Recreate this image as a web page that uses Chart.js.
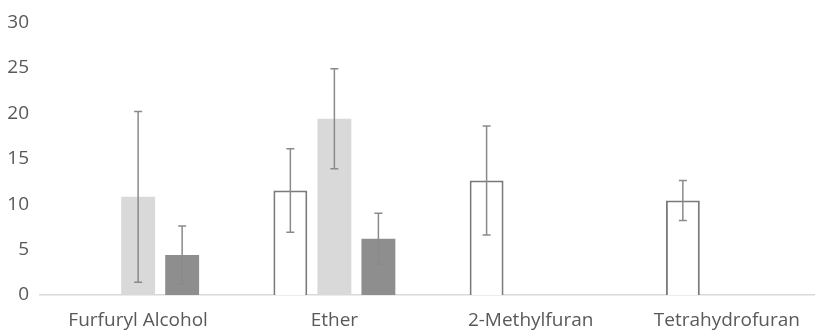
<!DOCTYPE html>
<html>
<head>
<meta charset="utf-8">
<script src="https://cdn.jsdelivr.net/npm/chart.js@4/dist/chart.umd.min.js"></script>
<style>
  html, body { margin: 0; padding: 0; background: #ffffff; overflow: hidden; }
  #wrap { width: 815px; height: 333px; overflow: hidden; position: relative; }
  #box { width: 830px; height: 333px; position: absolute; left: 0; top: 0; }
</style>
</head>
<body>
<div id="wrap"><div id="box"><canvas id="chart" width="830" height="333"></canvas></div></div>
<script>
// Categories and series
const categories = ['Furfuryl Alcohol', 'Ether', '2-Methylfuran', 'Tetrahydrofuran'];
const seriesA = [null, 11.5, 12.6, 10.4];
const seriesB = [10.8, 19.4, null, null];
const seriesC = [4.4, 6.2, null, null];
// Symmetric error (± value) for each bar
const errorA = [null, 4.6, 6.0, 2.2];
const errorB = [9.4, 5.5, null, null];
const errorC = [3.2, 2.8, null, null];
// Y axis range
const yTicks = [0, 5, 10, 15, 20, 25, 30];

const textColor = '#595959';
const fontFamily = '"Open Sans", "Noto Sans", sans-serif';

// Draws error bars with caps on top of every bar
const errorBarPlugin = {
  id: 'errorBars',
  afterDatasetsDraw(chart) {
    const ctx = chart.ctx;
    const y = chart.scales.y;
    ctx.save();
    ctx.strokeStyle = '#8a8a8a';
    ctx.lineWidth = 1.5;
    chart.data.datasets.forEach((ds, di) => {
      const meta = chart.getDatasetMeta(di);
      meta.data.forEach((bar, i) => {
        const v = ds.data[i];
        const e = ds.errors[i];
        if (v == null || e == null) return;
        const x = bar.x;
        const yTop = y.getPixelForValue(v + e);
        const yBot = y.getPixelForValue(v - e);
        const cap = 4;
        ctx.beginPath();
        ctx.moveTo(x, yTop); ctx.lineTo(x, yBot);
        ctx.moveTo(x - cap, yTop); ctx.lineTo(x + cap, yTop);
        ctx.moveTo(x - cap, yBot); ctx.lineTo(x + cap, yBot);
        ctx.stroke();
      });
    });
    ctx.restore();
  }
};

new Chart(document.getElementById('chart'), {
  type: 'bar',
  data: {
    labels: categories,
    datasets: [
      { label: 'Series 1', data: seriesA, errors: errorA, backgroundColor: '#ffffff',
        borderColor: '#7a7a7a', borderWidth: 2 },
      { label: 'Series 2', data: seriesB, errors: errorB, backgroundColor: '#d9d9d9',
        borderWidth: 0 },
      { label: 'Series 3', data: seriesC, errors: errorC, backgroundColor: '#8e8e8e',
        borderWidth: 0 }
    ]
  },
  options: {
    responsive: false,
    animation: false,
    devicePixelRatio: 1,
    categoryPercentage: 0.673,
    barPercentage: 0.77,
    layout: { padding: { top: 10, right: 5, bottom: 0, left: 0 } },
    plugins: { legend: { display: false }, tooltip: { enabled: false } },
    scales: {
      x: {
        grid: { display: false, drawTicks: false },
        border: { display: true, color: '#d9d9d9', width: 1.5 },
        ticks: { color: textColor, font: { family: fontFamily, size: 19 }, padding: 14, maxRotation: 0 },
        afterFit(scale) { scale.height = 38; }
      },
      y: {
        min: yTicks[0],
        max: yTicks[yTicks.length - 1],
        afterBuildTicks(scale) { scale.ticks = yTicks.map(v => ({ value: v })); },
        grid: { display: false, drawTicks: false },
        border: { display: false },
        ticks: { color: textColor, font: { family: fontFamily, size: 19 }, padding: 11 },
        afterFit(scale) { scale.width = 40; }
      }
    }
  },
  plugins: [errorBarPlugin]
});
</script>
</body>
</html>
